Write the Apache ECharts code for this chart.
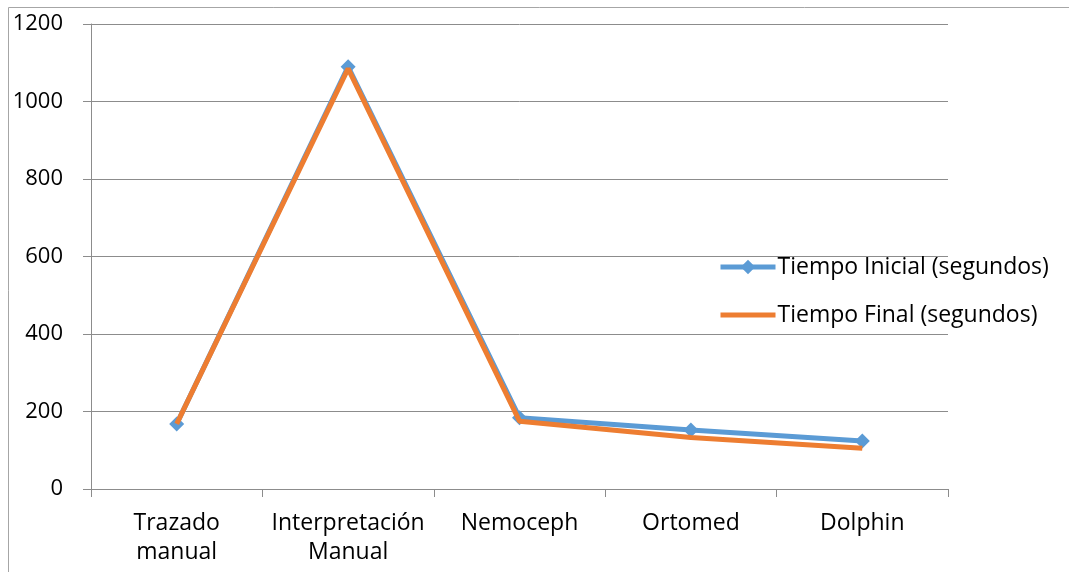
<!DOCTYPE html>
<html>
<head>
<meta charset="utf-8">
<style>
  html, body { margin: 0; padding: 0; background: #fff; }
  #chart { width: 1069px; height: 572px; }
</style>
<script src="https://cdn.jsdelivr.net/npm/echarts@6/dist/echarts.min.js"></script>
</head>
<body>
<div id="chart"></div>
<script>
// Processing time per method
const categories = ['Trazado\nmanual', 'Interpretación\nManual', 'Nemoceph', 'Ortomed', 'Dolphin'];
const tiempoInicial = [168, 1090, 184, 152, 124];
const tiempoFinal = [168, 1085, 175, 133, 105];
const seriesNames = ['Tiempo Inicial (segundos)', 'Tiempo Final (segundos)'];

const FONT = 'Open Sans';
const GRID_COLOR = '#8c8c8c';
const BLUE = '#5B9BD5';
const ORANGE = '#ED7D31';

const chart = echarts.init(document.getElementById('chart'));
chart.setOption({
  animation: false,
  textStyle: { fontFamily: FONT },
  graphic: [{
    type: 'rect',
    shape: { x: 8.5, y: 7.5, width: 1100, height: 600 },
    style: { fill: 'none', stroke: '#a6a6a6', lineWidth: 1 },
    silent: true
  }],
  grid: { left: 91, right: 121, top: 24, bottom: 83 },
  legend: {
    orient: 'vertical',
    left: 713,
    top: 248,
    itemWidth: 55,
    itemHeight: 18,
    itemGap: 20,
    lineStyle: { width: 5 },
    textStyle: { fontSize: 23, lineHeight: 28, color: '#000', fontFamily: FONT, padding: [0, 0, 0, -3] },
    data: [
      { name: seriesNames[0] },
      { name: seriesNames[1], itemStyle: { opacity: 0 } }
    ]
  },
  xAxis: {
    type: 'category',
    data: categories,
    boundaryGap: true,
    axisLine: { lineStyle: { color: GRID_COLOR, width: 1 } },
    axisTick: { show: true, length: 8, lineStyle: { color: GRID_COLOR } },
    axisLabel: { interval: 0, fontSize: 23, color: '#000', margin: 20, lineHeight: 29, fontFamily: FONT }
  },
  yAxis: {
    type: 'value',
    min: 0,
    max: 1200,
    interval: 200,
    axisLine: { show: true, lineStyle: { color: GRID_COLOR, width: 1 } },
    axisTick: { show: true, length: 8, lineStyle: { color: GRID_COLOR } },
    axisLabel: { fontSize: 22, color: '#000', margin: 28, fontFamily: FONT, formatter: v => String(v) },
    splitLine: { lineStyle: { color: GRID_COLOR, width: 1 } }
  },
  series: [
    {
      name: seriesNames[0],
      type: 'line',
      data: tiempoInicial,
      symbol: 'diamond',
      symbolSize: 15,
      itemStyle: { color: BLUE },
      lineStyle: { color: BLUE, width: 5 },
      z: 2
    },
    {
      name: seriesNames[1],
      type: 'line',
      data: tiempoFinal,
      symbol: 'none',
      itemStyle: { color: ORANGE },
      lineStyle: { color: ORANGE, width: 5 },
      z: 3
    }
  ]
});
</script>
</body>
</html>
